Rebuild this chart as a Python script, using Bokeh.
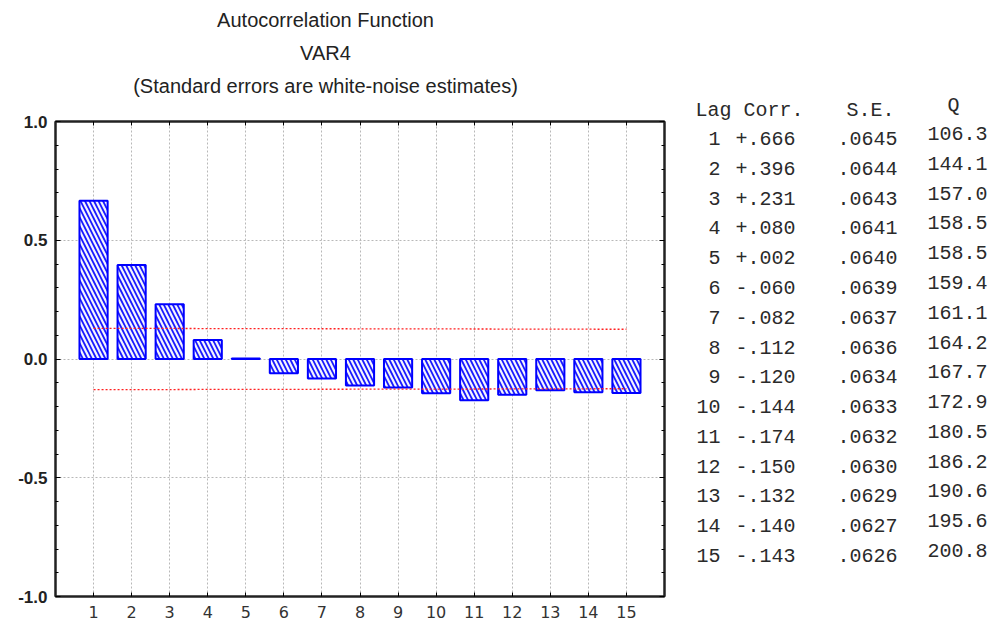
from bokeh.plotting import figure
from bokeh.models import (Range1d, FixedTicker, LinearAxis, ColumnDataSource)
from bokeh.layouts import row, column
from bokeh.embed import file_html
from bokeh.resources import INLINE
from bokeh.core.properties import value

# ---- data ----
lags = [1, 2, 3, 4, 5, 6, 7, 8, 9, 10, 11, 12, 13, 14, 15]
corr = [0.666, 0.396, 0.231, 0.080, 0.002, -0.060, -0.082, -0.112, -0.120,
        -0.144, -0.174, -0.150, -0.132, -0.140, -0.143]
se = [0.0645, 0.0644, 0.0643, 0.0641, 0.0640, 0.0639, 0.0637, 0.0636, 0.0634,
      0.0633, 0.0632, 0.0630, 0.0629, 0.0627, 0.0626]
q = [106.3, 144.1, 157.0, 158.5, 158.5, 159.4, 161.1, 164.2, 167.7,
     172.9, 180.5, 186.2, 190.6, 195.6, 200.8]
y_ticks = [-1.0, -0.5, 0.0, 0.5, 1.0]
y_tick_labels = {-1.0: "-1.0", -0.5: "-0.5", 0.0: "0.0", 0.5: "0.5", 1.0: "1.0"}
y_minor = [-0.9, -0.8, -0.7, -0.6, -0.4, -0.3, -0.2, -0.1,
           0.1, 0.2, 0.3, 0.4, 0.6, 0.7, 0.8, 0.9]
titles = ["Autocorrelation Function", "VAR4",
          "(Standard errors are white-noise estimates)"]
table_header = ["Lag Corr.", "S.E.", "Q"]

upper = [2 * s for s in se]
lower = [-2 * s for s in se]

TITLE_H = 100

# ---- title strip ----
tf = figure(width=680, height=TITLE_H, output_backend="svg", toolbar_location=None,
            title=None, x_range=Range1d(0, 680),
            y_range=Range1d(2.4545, -0.5758),
            min_border=0, min_border_left=0, min_border_right=0,
            min_border_top=0, min_border_bottom=0)
tf.frame_align = False
tf.axis.visible = False
tf.grid.visible = False
tf.outline_line_color = None
tsrc_t = ColumnDataSource(dict(txt=titles, line=[0, 1, 2], xc=[325, 325, 325]))
tf.text(x="xc", y="line", text="txt", source=tsrc_t,
        text_font=value("Liberation Sans"), text_font_size="20px",
        text_color="#222222", text_align="center", text_baseline="middle")

# ---- chart ----
p = figure(width=680, height=626 - TITLE_H, output_backend="svg",
           toolbar_location=None, title=None,
           x_range=Range1d(0, 16), y_range=Range1d(-1.0, 1.0),
           min_border_left=55, min_border_right=16, min_border_top=121 - TITLE_H,
           min_border_bottom=30, background_fill_color="white",
           border_fill_color="white")
p.frame_align = False
p.outline_line_color = "#222222"
p.outline_line_width = 2

# grids
p.xgrid.ticker = FixedTicker(ticks=lags)
p.ygrid.ticker = FixedTicker(ticks=[-0.5, 0.0, 0.5])
for g in (p.xgrid, p.ygrid):
    g.grid_line_color = "#b8b8b8"
    g.grid_line_dash = "2 2"
    g.grid_line_width = 1

# axes
xa = p.xaxis[0]
xa.ticker = FixedTicker(ticks=lags)
xa.major_label_text_font = "DejaVu Sans"
xa.major_label_text_font_size = "16px"
xa.major_label_text_color = "#333333"
xa.major_tick_in = 4
xa.major_tick_out = 0
xa.minor_tick_line_color = None
xa.axis_line_color = "#222222"
xa.axis_line_width = 2
xa.major_label_standoff = 9

ya = p.yaxis[0]
ya.ticker = FixedTicker(ticks=y_ticks, minor_ticks=y_minor)
ya.major_label_overrides = y_tick_labels
ya.major_label_text_font = "Liberation Sans"
ya.major_label_text_font_style = "bold"
ya.major_label_text_font_size = "17px"
ya.major_label_text_color = "#222222"
ya.major_tick_in = 5
ya.major_tick_out = 0
ya.minor_tick_in = 3
ya.minor_tick_out = 0
ya.axis_line_color = "#222222"
ya.axis_line_width = 2
ya.major_label_standoff = 8

top = LinearAxis(ticker=FixedTicker(ticks=lags), major_label_text_color=None,
                 major_label_text_font_size="1px",
                 major_tick_in=4, major_tick_out=0, minor_tick_line_color=None,
                 axis_line_color="#222222", axis_line_width=2, major_label_standoff=0)
p.add_layout(top, "above")
right = LinearAxis(ticker=FixedTicker(ticks=y_ticks, minor_ticks=y_minor),
                   major_label_text_color=None, major_label_text_font_size="1px",
                   major_tick_in=5, major_tick_out=0,
                   minor_tick_in=3, minor_tick_out=0, axis_line_color="#222222",
                   axis_line_width=2, major_label_standoff=0)
p.add_layout(right, "right")

# bars
src = ColumnDataSource(dict(lag=lags, corr=corr, up=upper, lo=lower))
p.vbar(x="lag", top="corr", bottom=0, width=0.74, source=src,
       fill_color="#f3f4ff", line_color="#0000ff", line_width=2,
       hatch_pattern="\\", hatch_color="#1a1aff", hatch_scale=9, hatch_weight=1.8)

# confidence limits (+/- 2 S.E.)
p.line("lag", "up", source=src, line_color="#ff2020", line_dash="2 2", line_width=1.3)
p.line("lag", "lo", source=src, line_color="#ff2020", line_dash="2 2", line_width=1.3)

# ---- table ----
t = figure(width=318, height=626, output_backend="svg", toolbar_location=None,
           title=None,
           x_range=Range1d(0, 318), y_range=Range1d(17.381, -3.632),
           min_border=0, min_border_left=0, min_border_right=0,
           min_border_top=0, min_border_bottom=0)
t.frame_align = False
t.axis.visible = False
t.grid.visible = False
t.outline_line_color = None

tsrc = ColumnDataSource(dict(
    lag=lags,
    lag_s=[str(v) for v in lags],
    corr_s=[("+" if v >= 0 else "-") + ("%.3f" % abs(v))[1:] for v in corr],
    se_s=[("%.4f" % v)[1:] for v in se],
    q_s=["%.1f" % v for v in q],
    x_lag=[40] * len(lags), x_corr=[115] * len(lags),
    x_se=[217] * len(lags), x_q=[307] * len(lags),
))
mono = value("Liberation Mono")
common = dict(source=tsrc, text_font=mono, text_font_size="20px",
              text_color="#2a2a2a", text_align="right", text_baseline="middle")
t.text(x="x_lag", y="lag", text="lag_s", **common)
t.text(x="x_corr", y="lag", text="corr_s", **common)
t.text(x="x_se", y="lag", text="se_s", **common)
t.text(x="x_q", y="lag", text="q_s", y_offset=-5, **common)

hsrc = ColumnDataSource(dict(x=[15, 166, 273], y=[0, 0, 0],
                             txt=table_header,
                             align=["left", "left", "center"],
                             yo=[2, 2, -3]))
t.text(x="x", y="y", text="txt", source=hsrc, text_font=mono,
       text_font_size="20px", text_color="#2a2a2a", text_align="align",
       text_baseline="middle", y_offset="yo")

layout = row(column(tf, p), t)
open("out.html", "w").write(file_html(layout, INLINE))
